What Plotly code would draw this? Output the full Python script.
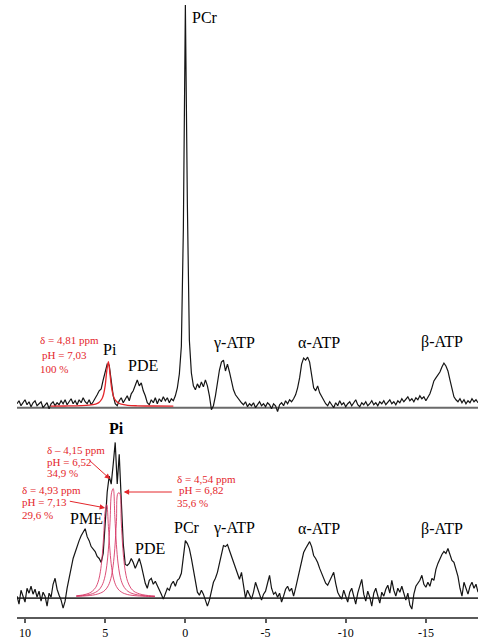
import numpy as np
import plotly.graph_objects as go

# ---------------- data (chemical shift in ppm, intensity in a.u.) ----------------
PPM_START = 10.5
PPM_STEP = 0.125

top_spectrum = [
    4, 7, 2, 5, 8, 3, 6, 1, 5, 7, 2, 4, 6, 0, 3, 5, -1, 4, 6, 2,
    5, 3, 7, 4, 8, 3, 6, 9, 4, 7, 3, 8, 5, 10, 6, 4, 8, 3, 6, 9,
    13, 17, 19, 28, 36, 44, 43, 27, 12, 4, 2,
    7, 10, 5, 9, 12, 7, 14, 17, 23, 28, 22, 25, 17, 12, 5, 3, 8, 5, 10, 4,
    9, 6, 11, 7, 10, 5, 9, 7, 12,
    20, 34, 62, 180, 406, 205, 68, 35, 22,
    18, 24, 20, 26, 21, 28, 22, 12, -2,
    2, 12, 27, 38, 46, 48, 37, 44, 36, 27, 18, 13, 10, 7, 5,
    3, 6, 1, 4, 2, 5, 0, 3, 6, 2, 4, 1, 5, 3, -1, 4, 2, -4, 3, 5, 2, 7, 4, 8, 6,
    9, 13, 20, 30, 44, 50, 48, 51, 46, 30, 20, 17, 22, 15, 11, 7,
    4, 2, 6, 3, 0, 5, 2, 7, 3, 5, 1, 4, 6, 2, 5, 8, 3, 1, 5, 3,
    6, 2, 4, 7, 3, 5, 2, 6, 4, 7, 3, 5, 8, 4, 6, 3, 7, 5, 9, 6,
    8, 11, 7, 9, 6, 10, 8, 12, 9, 11, 7, 10,
    14, 20, 27, 30, 33, 36, 41, 45, 42, 37, 28, 20, 11, 8, 6, 9, 5, 8, 4, 7,
    5, 9, 6, 8, 5,
]

bottom_spectrum = [
    2, -6, 8, 3, -4, 10, 5, 12, 4, 9, 1, 7, -3, 6, 2, -8, 5, 1, 14, 20,
    9, 3, -2, -10,
    -3, 10, 20, 28, 40, 46, 53, 58, 63, 67, 70, 62, 58, 52, 50, 47, 42, 40, 36, 45,
    75, 107, 123, 115, 135, 157, 115, 145, 100, 55, 34,
    33, 35, 40, 36, 30, 35, 40, 33, 23, 15, 10, 18, 20, 14, 17, 13, 8, 4, -1, 5,
    10, 8, 14, 17, 12, 18, 20, 25, 40, 58,
    55, 50, 40, 29, 15, 6, 3, 8, 4, -3, -8, -2, 6, 16, 20, 26, 35, 45, 53, 52,
    54, 48, 42, 36, 30, 25, 19, 26,
    12, 0, 8, 4, -1, 6, 16, 10, 3, -2, 4, 7, 15, 23, 10, 4, 6, 1, 5, -4,
    2, 9, 12, 7, 10, 2, 10,
    19, 30, 38, 46, 50, 53, 57, 52, 43, 40, 36, 30, 25, 19, 15, 13, 18, 22, 26, 15,
    6, 2, -1,
    8, 3, -4, 6, 10, 2, -6, 5, 12, 19, 4, -3, 7, 1, -8, 5, 10, 3, -5, 6,
    2, 9, 13, 5, 18, 8, 2, 10, 6, 12, 4, -2, 5, -7, -11, 4, 12, 15, 18, 23,
    14, 11,
    16, 12, 20, 18, 29, 35, 40, 44, 47, 45, 50, 43, 38, 36, 28, 22, 10, 2, 16, 10,
    4, 12, 16, 10, 14, 6,
]

# fitted Pi line, top spectrum (sampled)
fit_top_ppm = [8.4, 7.5, 6.5, 6.0, 5.6, 5.4, 5.2, 5.1, 5.0, 4.9, 4.8, 4.7, 4.6,
               4.5, 4.4, 4.2, 4.0, 3.6, 3.0, 2.0, 0.75]
fit_top = [1.6, 1.7, 2.0, 2.5, 3.6, 5.1, 9.0, 13.5, 22.2, 37.1, 46.4, 33.8, 19.9,
           12.4, 8.4, 4.9, 3.5, 2.4, 1.9, 1.7, 1.6]

# fitted Pi components, bottom spectrum (sampled)
fit_bottom_ppm = [6.8, 6.4, 6.0, 5.8, 5.6, 5.5, 5.4, 5.3, 5.2, 5.1, 5.0, 4.9, 4.8,
                  4.7, 4.6, 4.5, 4.4, 4.3, 4.2, 4.1, 4.0, 3.9, 3.8, 3.7, 3.6, 3.4,
                  3.2, 3.0, 2.7, 2.3, 1.9]
fit_pi_493 = [2.4, 3.2, 5.0, 7.0, 10.6, 13.8, 18.7, 26.7, 39.9, 61.5, 87.6, 94.3, 72.2,
              47.5, 31.1, 21.4, 15.5, 11.7, 9.2, 7.5, 6.3, 5.3, 4.6, 4.1, 3.6, 3.0,
              2.6, 2.3, 2.0, 1.7, 1.5]
fit_pi_454 = [2.1, 2.6, 3.6, 4.5, 5.9, 6.9, 8.2, 10.1, 12.8, 16.7, 22.8, 32.7, 49.4,
              76.0, 106.5, 110.5, 82.5, 53.9, 35.4, 24.4, 17.7, 13.4, 10.6, 8.6, 7.1, 5.2,
              4.1, 3.4, 2.7, 2.1, 1.8]
fit_pi_415 = [1.8, 2.1, 2.6, 3.0, 3.6, 4.0, 4.5, 5.1, 5.8, 6.8, 8.2, 10.1, 12.8,
              16.8, 23.0, 33.2, 50.2, 77.2, 105.9, 105.9, 77.2, 50.2, 33.2, 23.0, 16.8, 10.1,
              6.8, 5.1, 3.6, 2.6, 2.1]

tick_vals = [10, 5, 0, -5, -10, -15]
tick_text = ["10", "5", "0", "-5", "-10", "-15"]

fit_text_top = ["δ = 4,81 ppm", "pH = 7,03", "100 %"]
fit_text_415 = ["δ – 4,15 ppm", "pH = 6,52", "34,9 %"]
fit_text_493 = ["δ = 4,93 ppm", "pH = 7,13", "29,6 %"]
fit_text_454 = ["δ = 4,54 ppm", "pH = 6,82", "35,6 %"]

# vertical offsets of the two stacked spectra
TOP_OFFSET = 211
BOTTOM_OFFSET = 19
X_RANGE = [10.5, -18.25]

ppm_top = PPM_START - PPM_STEP * np.arange(len(top_spectrum))
ppm_bot = PPM_START - PPM_STEP * np.arange(len(bottom_spectrum))

BLACK = "#151515"
RED = "#e4262b"
PINK = "rgba(214,48,96,0.85)"
SERIF = "Liberation Serif"

fig = go.Figure()

# baselines
fig.add_trace(go.Scatter(x=X_RANGE, y=[TOP_OFFSET, TOP_OFFSET], mode="lines",
                         line=dict(color="#6a6a6a", width=2), hoverinfo="skip"))
fig.add_trace(go.Scatter(x=X_RANGE, y=[BOTTOM_OFFSET, BOTTOM_OFFSET], mode="lines",
                         line=dict(color="#3a3a3a", width=1.6), hoverinfo="skip"))

# spectra
fig.add_trace(go.Scatter(x=ppm_top, y=np.array(top_spectrum) + TOP_OFFSET, mode="lines",
                         line=dict(color=BLACK, width=1.2)))
fig.add_trace(go.Scatter(x=ppm_bot, y=np.array(bottom_spectrum) + BOTTOM_OFFSET, mode="lines",
                         line=dict(color=BLACK, width=1.2)))

# fits
fig.add_trace(go.Scatter(x=fit_top_ppm, y=np.array(fit_top) + TOP_OFFSET, mode="lines",
                         line=dict(color=RED, width=1.3, shape="spline")))
for comp in (fit_pi_493, fit_pi_454, fit_pi_415):
    fig.add_trace(go.Scatter(x=fit_bottom_ppm, y=np.array(comp) + BOTTOM_OFFSET, mode="lines",
                             line=dict(color=PINK, width=1, shape="spline")))

annotations = []


def label(text, x, y, size=16, color="black", bold=False, xanchor="center"):
    if bold:
        text = "<b>" + text + "</b>"
    annotations.append(dict(text=text, x=x, y=y, xref="x", yref="y", showarrow=False,
                            xanchor=xanchor, yanchor="middle",
                            font=dict(family=SERIF, size=size, color=color)))


def red_block(lines, xs, ys):
    for t, x, y in zip(lines, xs, ys):
        label(t, x, y, size=11, color=RED, xanchor="left")


# top spectrum labels
label("PCr", -1.22, 604)
label("Pi", 4.69, 270)
label("PDE", 2.66, 254)
label("γ-ATP", -3.03, 276)
label("α-ATP", -8.34, 277)
label("β-ATP", -16.03, 277)
red_block(fit_text_top, [9.19, 9.07, 9.19], [279, 264, 250])

# bottom spectrum labels
label("Pi", 4.28, 190, bold=True)
label("PME", 6.19, 99)
label("PDE", 2.19, 69)
label("PCr", -0.09, 90)
label("γ-ATP", -3.03, 90)
label("α-ATP", -8.34, 89)
label("β-ATP", -16.03, 89)
red_block(fit_text_415, [8.75, 8.75, 8.75], [168, 156, 145])
red_block(fit_text_493, [10.31, 10.31, 10.31], [128, 116, 103])
red_block(fit_text_454, [0.64, 0.52, 0.64], [139, 128, 115])

# arrows
for (tx, ty, hx, hy) in [(6.06, 159, 4.69, 139), (7.3, 117, 5.0, 110), (0.75, 126, 3.85, 126)]:
    annotations.append(dict(x=hx, y=hy, ax=tx, ay=ty, xref="x", yref="y", axref="x", ayref="y",
                            text="", showarrow=True, arrowhead=2, arrowsize=1.1,
                            arrowwidth=1, arrowcolor=RED))

fig.update_layout(
    width=483, height=640,
    margin=dict(l=17, r=5, t=0, b=18),
    paper_bgcolor="white", plot_bgcolor="white",
    showlegend=False,
    annotations=annotations,
    xaxis=dict(range=X_RANGE, showgrid=False, zeroline=False, showline=True,
               linecolor="#5a5a5a", linewidth=2, ticks="outside", ticklen=4,
               tickcolor="#5a5a5a", tickwidth=1.5, tickvals=tick_vals, ticktext=tick_text,
               tickfont=dict(family=SERIF, size=12, color="black"), fixedrange=True),
    yaxis=dict(range=[0, 622], visible=False, fixedrange=True),
)

fig.write_html(
    "out.html",
    config={"displayModeBar": False},
    post_script="document.body.style.margin='0';document.body.style.padding='0';"
                "document.body.style.overflow='hidden';",
)
